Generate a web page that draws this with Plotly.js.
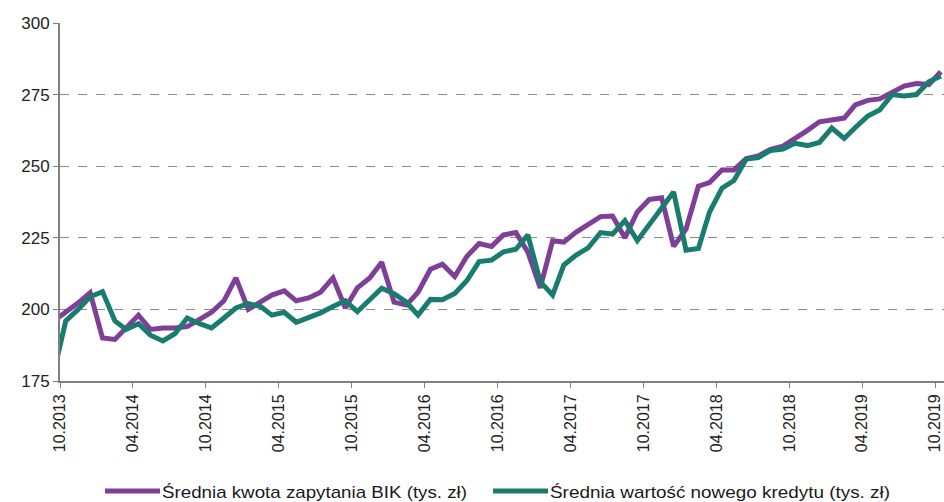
<!DOCTYPE html>
<html>
<head>
<meta charset="utf-8">
<script src="https://cdn.plot.ly/plotly-3.0.1.min.js"></script>
<style>html,body{margin:0;padding:0;background:#fff;}#chart{width:944px;height:502px;}</style>
</head>
<body>
<div id="chart"></div>
<script>
// Months (plotted at mid-month)
const months = [
'2013-09-15','2013-10-15','2013-11-15','2013-12-15',
'2014-01-15','2014-02-15','2014-03-15','2014-04-15','2014-05-15','2014-06-15','2014-07-15','2014-08-15','2014-09-15','2014-10-15','2014-11-15','2014-12-15',
'2015-01-15','2015-02-15','2015-03-15','2015-04-15','2015-05-15','2015-06-15','2015-07-15','2015-08-15','2015-09-15','2015-10-15','2015-11-15','2015-12-15',
'2016-01-15','2016-02-15','2016-03-15','2016-04-15','2016-05-15','2016-06-15','2016-07-15','2016-08-15','2016-09-15','2016-10-15','2016-11-15','2016-12-15',
'2017-01-15','2017-02-15','2017-03-15','2017-04-15','2017-05-15','2017-06-15','2017-07-15','2017-08-15','2017-09-15','2017-10-15','2017-11-15','2017-12-15',
'2018-01-15','2018-02-15','2018-03-15','2018-04-15','2018-05-15','2018-06-15','2018-07-15','2018-08-15','2018-09-15','2018-10-15','2018-11-15','2018-12-15',
'2019-01-15','2019-02-15','2019-03-15','2019-04-15','2019-05-15','2019-06-15','2019-07-15','2019-08-15','2019-09-15','2019-10-15'
];

// Średnia kwota zapytania BIK (tys. zł)
const bikValues = [
196, 199, 202.3, 205.8,
190, 189.5, 193.5, 198, 193, 193.5, 193.5, 194, 196.5, 199, 203, 211,
200, 202.5, 205, 206.5, 203, 204, 206, 211, 200.5, 207.5, 211, 216.5,
202.5, 201.5, 206, 214, 215.8, 211.5, 218.5, 223, 222, 226, 226.8, 220,
207.5, 224, 223.5, 227, 229.5, 232.4, 232.6, 225, 234, 238.4, 239, 222,
228, 243, 244.3, 248.7, 248.7, 252.7, 253.6, 255.9, 257, 259.5, 262.5, 265.5,
266, 266.8, 271.4, 273, 273.5, 276, 278, 278.9, 278.5, 283
];

// Średnia wartość nowego kredytu (tys. zł)
const loanValues = [
178, 196, 200, 204.4,
206.2, 196, 193, 195, 191, 189, 191.5, 197, 195, 193.5, 197, 200.5,
202, 201, 198, 199, 195.5, 197, 198.8, 201, 203, 199.2, 203.5, 207.4,
205.5, 202.5, 198, 203.5, 203.4, 205.6, 210, 216.7, 217.2, 220.1, 221, 226,
209.7, 205, 215.5, 219, 221.5, 226.8, 226.3, 231, 224, 229.5, 235, 241,
220.7, 221.3, 234, 242.3, 245, 252.5, 253, 255.5, 256, 258, 257.2, 258.3,
263.3, 259.7, 263.5, 267.5, 269.6, 275, 274.5, 275, 279.5, 281.5
];

const seriesNames = ['Średnia kwota zapytania BIK (tys. zł)', 'Średnia wartość nowego kredytu (tys. zł)'];
const yTicks = [175, 200, 225, 250, 275, 300];

const FONT = 'Liberation Sans, Arial, sans-serif';

const traces = [
  {x: months, y: bikValues, name: seriesNames[0], type: 'scatter', mode: 'lines',
   line: {color: '#7f3f98', width: 5}},
  {x: months, y: loanValues, name: seriesNames[1], type: 'scatter', mode: 'lines',
   line: {color: '#187c6e', width: 5}}
];

const layout = {
  width: 944, height: 502,
  margin: {l: 60, r: 0, t: 23, b: 121, autoexpand: false},
  paper_bgcolor: '#fff', plot_bgcolor: '#fff',
  font: {family: FONT, color: '#222', size: 16},
  showlegend: true,
  legend: {orientation: 'h', x: 0.495, xanchor: 'center', y: -0.29, yanchor: 'middle',
           font: {family: FONT, size: 17, color: '#1a1a1a'}, itemwidth: 30, traceorder: 'normal'},
  xaxis: {
    type: 'date',
    range: ['2013-09-30 12:00', '2019-10-23'],
    tick0: '2013-10-01', dtick: 'M6', tickformat: '%m.%Y',
    tickangle: -90,
    showgrid: false, zeroline: false,
    showline: true, linecolor: '#808080', linewidth: 2,
    ticks: 'outside', ticklen: 5, tickcolor: '#808080', tickwidth: 1,
    tickfont: {family: FONT, size: 16, color: '#222'}
  },
  yaxis: {
    range: [175, 300],
    tickvals: yTicks,
    showgrid: true, gridcolor: '#8c8c8c', gridwidth: 1, griddash: 'dash',
    zeroline: false,
    showline: true, linecolor: '#808080', linewidth: 2,
    ticks: 'outside', ticklen: 5, tickcolor: '#808080', tickwidth: 1,
    tickfont: {family: FONT, size: 17, color: '#222'}
  }
};

// Legend item geometry to mimic the reference (wide symbols, wide text)
const legendLook = [
  {lineStart: 105, lineLen: 55, textWidth: 305, y: 491},
  {lineStart: 493, lineLen: 55, textWidth: 340, y: 491}
];

Plotly.newPlot('chart', traces, layout, {displayModeBar: false, staticPlot: true}).then(function (gd) {
  const sb = gd.querySelector('.legend .scrollbox');
  if (sb) sb.removeAttribute('clip-path');
  const bg = gd.querySelector('.legend .bg');
  if (bg) bg.setAttribute('fill-opacity', '0');
  const items = gd.querySelectorAll('.legend .traces');
  items.forEach(function (g, i) {
    const look = legendLook[i];
    if (!look) return;
    const m = /translate\(\s*([-\d.]+)[ ,]+([-\d.]+)\s*\)/.exec(g.getAttribute('transform') || '');
    const tx = m ? parseFloat(m[1]) : 0, ty = m ? parseFloat(m[2]) : 0;
    const ctm = g.getCTM();
    const nx = tx + (look.lineStart - ctm.e);
    const ny = ty + (look.y - ctm.f);
    g.setAttribute('transform', 'translate(' + nx + ',' + ny + ')');
    g.querySelectorAll('path.js-line').forEach(function (p) {
      p.setAttribute('d', 'M0,0h' + look.lineLen);
    });
    const t = g.querySelector('text.legendtext');
    if (t) {
      t.setAttribute('x', look.lineLen + 2);
      t.setAttribute('textLength', look.textWidth);
      t.setAttribute('lengthAdjust', 'spacingAndGlyphs');
    }
  });
});
</script>
</body>
</html>
